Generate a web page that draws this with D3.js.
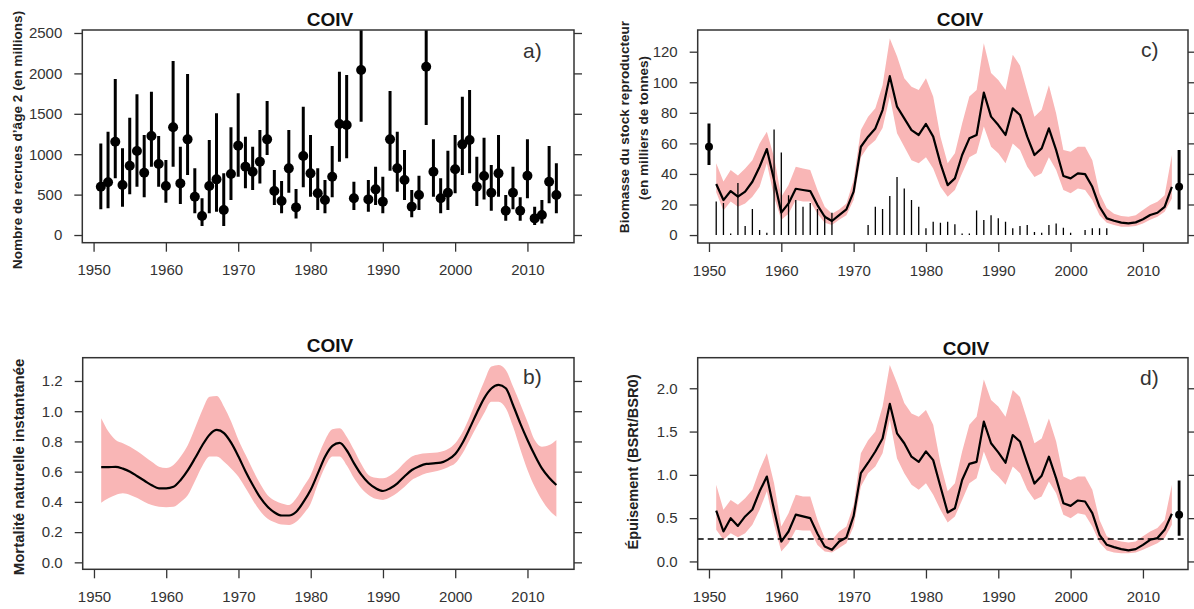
<!DOCTYPE html>
<html>
<head>
<meta charset="utf-8">
<script src="https://cdn.jsdelivr.net/npm/d3@7/dist/d3.min.js"></script>
<style>
  body { margin: 0; background: #fff; }
  svg { display: block; }
  .tick text { font-family: "Liberation Sans", Arial, sans-serif; font-size: 15px; fill: #333; }
  .tick line { stroke: #333; stroke-width: 1.3px; }
  .ylab { font-family: "Liberation Sans", Arial, sans-serif; font-weight: bold; fill: #222; }
  .ttl { font-family: "Liberation Sans", Arial, sans-serif; font-size: 19px; font-weight: bold; fill: #111; }
  .plab { font-family: "Liberation Sans", Arial, sans-serif; font-size: 21px; fill: #333; }
</style>
</head>
<body>
<svg id="chart" width="1194" height="609"></svg>
<script>
// ---- data ----
var years = d3.range(1951, 2015);   // 1951..2014
var yearTicks = [1950, 1960, 1970, 1980, 1990, 2000, 2010];

// a) recrues d'age 2 (millions)
var recMid = [598,652,1155,619,858,1040,771,1225,879,606, 1333,639,1184,474,235,606,689,309,755,1106,
  846,784,908,1184,545,421,825,342,978,763, 516,433,722,1374,1361,454,2042,441,565,413,
  1184,825,681,351,495,2083,784,454,524,813, 1122,1176,598,730,524,763,301,524,301,734,
  206,248,660,495];
var recHi = [1134,1279,1930,1073,1452,1741,1238,1774,1225,928, 2153,1093,1993,825,454,1176,1506,763,1333,1753,
  1217,1093,1300,1658,804,668,1300,569,1588,1238, 825,681,1101,2021,1980,660,2700,681,846,722,
  1782,1279,1052,557,734,2700,1184,701,1044,1238, 1712,1795,969,1205,866,1238,495,846,466,1184,
  351,433,1101,887];
var recLo = [318,330,701,351,503,598,466,846,598,400, 846,384,743,268,111,268,289,111,433,722,
  578,557,639,990,371,268,524,206,590,474, 309,268,466,908,949,309,1403,289,371,268,
  796,536,433,219,309,1361,474,268,309,516, 743,763,359,441,301,474,177,318,177,454,
  124,144,392,268];
var recTicks = [0, 500, 1000, 1500, 2000, 2500];

// b) mortalite naturelle
var mMid = [0.63,0.63,0.632,0.62,0.60,0.57,0.54,0.51,0.49,0.49, 0.50,0.545,0.61,0.69,0.775,0.845,0.876,0.855,0.79,0.70,
  0.60,0.51,0.43,0.37,0.33,0.31,0.31,0.335,0.40,0.48, 0.59,0.70,0.77,0.79,0.74,0.655,0.58,0.525,0.49,0.472,
  0.49,0.523,0.57,0.611,0.635,0.651,0.655,0.66,0.68,0.717, 0.79,0.887,0.99,1.085,1.15,1.174,1.152,1.041,0.92,0.81,
  0.71,0.622,0.56,0.512];
var mHi = [0.953,0.865,0.81,0.788,0.765,0.735,0.70,0.665,0.633,0.625, 0.644,0.70,0.776,0.89,1.008,1.096,1.10,1.03,0.93,0.81,
  0.71,0.611,0.52,0.446,0.41,0.39,0.38,0.424,0.50,0.578, 0.70,0.81,0.88,0.887,0.83,0.743,0.65,0.578,0.56,0.556,
  0.575,0.611,0.66,0.70,0.715,0.721,0.725,0.732,0.75,0.788, 0.86,0.964,1.08,1.196,1.295,1.306,1.273,1.163,1.05,0.931,
  0.81,0.765,0.776,0.81];
var mLo = [0.395,0.424,0.446,0.457,0.446,0.425,0.40,0.38,0.368,0.365, 0.368,0.40,0.446,0.54,0.638,0.70,0.70,0.666,0.62,0.567,
  0.49,0.41,0.34,0.29,0.265,0.25,0.247,0.269,0.32,0.39, 0.52,0.633,0.70,0.70,0.64,0.556,0.49,0.446,0.42,0.413,
  0.43,0.461,0.50,0.545,0.57,0.589,0.60,0.611,0.63,0.655, 0.72,0.81,0.90,0.986,1.063,1.063,1.019,0.898,0.75,0.611,
  0.50,0.413,0.346,0.302];
var mTicks = [0, 0.2, 0.4, 0.6, 0.8, 1.0, 1.2];

// c) biomasse du stock reproducteur (milliers de tonnes)
var ssbMid = [33.4,22.9,28.8,25.1,28.4,34.9,44.7,56.3,36,14.8, 20.7,30.3,29.5,28.8,19.6,12,9.2,13.1,16.8,28.4,
  57.8,64.4,69.8,81.8,104,84,76.4,68.7,65.5,72.7, 64.4,46.9,32.7,37.1,52.4,63.3,65.5,93.2,77.5,72,
  65.5,82.9,78.6,64.4,52.4,56.7,69.8,55.6,38.6,37.1, 40.4,39.9,31.6,18.5,10.9,9.4,8.1,7.6,8.3,10.3,
  13.1,14.6,18.5,31.6];
var ssbHi = [47,35,42.5,39,43.6,49,60,67.6,51,25, 32.7,44.7,43.6,42.5,29.5,18.5,14,16.8,20.7,36,
  68.7,77.5,83,98,128.7,117,102.6,97,95,102.6, 90.6,64.4,47,53.5,73,90.6,95,125.5,106,101.5,
  95,118,111,94,77.5,82,98,79.6,55.6,54.5, 57.8,57.8,49,27.3,17.5,14,12.4,12,13,16.4,
  19.6,21.8,26,52.4];
var ssbLo = [28,16,22,18.5,20.7,25,31.6,47,25,10, 14,23,22,22,14,8,6.5,10,13,23,
  51,58,62,70,90.6,66.6,57.8,49,47,51, 43.6,31.6,25,29.5,40.4,51,53.5,71,57.8,53.5,
  47,60,55.6,44.7,38,40.4,51,42.5,29.5,27.3, 30.5,29.5,23,13,8,6.5,5.5,5.5,6,7.6,
  10,12,15.3,24];
var catchYears = d3.range(1951, 2006);
var catchVals = [22,21,1,34,6,17,3.3,1.5,69,54, 26,23,18.5,21,17,13,14.6,0,0,0,
  0,6.5,18.5,17,25.5,38,30.5,23,18.5,4.4, 8.7,8,8.7,7,1,1,16,9.8,13,11,
  8.7,4.4,6,6.5,2,1.5,6.5,7.6,4.8,1.5, 0,3.3,4.4,4.4,4.4];
var ssbPts = [{yr: 1950, v: 57.8, lo: 45.8, hi: 73}, {yr: 2015, v: 31.6, lo: 16.8, hi: 55.6}];
var ssbTicks = [0, 20, 40, 60, 80, 100, 120];

// d) epuisement BSRt/BSR0
var depMid = [0.588,0.346,0.50,0.41,0.52,0.60,0.81,0.98,0.596,0.23, 0.346,0.54,0.52,0.50,0.32,0.173,0.135,0.23,0.277,0.527,
  1.02,1.14,1.27,1.42,1.82,1.48,1.365,1.21,1.15,1.27, 1.17,0.865,0.565,0.615,0.94,1.127,1.15,1.615,1.365,1.26,
  1.14,1.46,1.385,1.135,0.90,0.99,1.21,0.96,0.673,0.642, 0.704,0.692,0.558,0.308,0.192,0.165,0.142,0.127,0.142,0.192,
  0.25,0.27,0.365,0.55];
var depHi = [0.885,0.596,0.71,0.654,0.73,0.827,1.058,1.25,0.904,0.404, 0.558,0.77,0.75,0.75,0.48,0.27,0.25,0.346,0.404,0.654,
  1.25,1.40,1.50,1.79,2.27,2.06,1.83,1.71,1.67,1.75, 1.58,1.135,0.81,0.904,1.27,1.58,1.67,2.10,1.865,1.79,
  1.67,1.98,1.90,1.635,1.365,1.42,1.65,1.385,0.98,0.94, 0.98,0.98,0.827,0.48,0.29,0.25,0.23,0.22,0.23,0.29,
  0.346,0.385,0.48,0.885];
var depLo = [0.365,0.25,0.327,0.28,0.327,0.423,0.596,0.81,0.423,0.115, 0.21,0.365,0.358,0.358,0.19,0.115,0.104,0.154,0.21,0.404,
  0.865,1.02,1.096,1.25,1.635,1.19,1.02,0.885,0.827,0.904, 0.77,0.596,0.45,0.52,0.71,0.904,0.96,1.27,1.058,0.98,
  0.885,1.096,1.02,0.827,0.71,0.75,0.923,0.788,0.538,0.50, 0.558,0.538,0.404,0.22,0.127,0.104,0.096,0.096,0.104,0.135,
  0.173,0.21,0.27,0.423];
var depPts = [{yr: 2015, v: 0.538, lo: 0.296, hi: 0.935}];
var depRef = 0.26;
var depTicks = [0, 0.5, 1.0, 1.5, 2.0];

var bandColor = '#f9b6b6';
var svg = d3.select('#chart');

// builds one panel: box, axes, clip, returns scales + group
function makePanel(o){
  var x = d3.scaleLinear().domain(o.xdom).range([o.l, o.r]);
  var y = d3.scaleLinear().domain(o.ydom).range([o.b, o.t]);
  var g = svg.append('g');

  g.append('clipPath').attr('id', o.id + '-clip')
    .append('rect').attr('x', o.l).attr('y', o.t).attr('width', o.r - o.l).attr('height', o.b - o.t);
  var plot = g.append('g').attr('clip-path', 'url(#' + o.id + '-clip)');

  var ax = g.append('g').attr('transform', 'translate(0,' + o.b + ')')
    .call(d3.axisBottom(x).tickValues(yearTicks).tickFormat(d3.format('d')).tickSize(9).tickPadding(13));
  ax.select('.domain').remove();

  var ayl = g.append('g').attr('transform', 'translate(' + o.l + ',0)')
    .call(d3.axisLeft(y).tickValues(o.yticks).tickFormat(o.fmt).tickSize(8).tickPadding(12));
  ayl.select('.domain').remove();

  var ayr = g.append('g').attr('transform', 'translate(' + o.r + ',0)')
    .call(d3.axisRight(y).tickValues(o.yticks).tickFormat('').tickSize(8));
  ayr.select('.domain').remove();

  g.append('rect').attr('x', o.l).attr('y', o.t).attr('width', o.r - o.l).attr('height', o.b - o.t)
    .attr('fill', 'none').attr('stroke', '#333').attr('stroke-width', 1.5);

  g.append('text').attr('class', 'ttl').attr('x', o.tx).attr('y', o.ty)
    .attr('text-anchor', 'middle').text('COIV');
  g.append('text').attr('class', 'plab').attr('x', o.px).attr('y', o.py).text(o.plab);

  o.ylab.forEach(function(l){
    g.append('text').attr('class', 'ylab').style('font-size', l.fs + 'px')
      .attr('transform', 'translate(' + l.x + ',' + l.y + ') rotate(-90)')
      .attr('text-anchor', 'middle').attr('dy', '0.35em').text(l.t);
  });
  return {x: x, y: y, plot: plot};
}

function drawBand(p, lo, hi, mid, curve){
  var area = d3.area().x(function(d, i){ return p.x(years[i]); })
    .y0(function(d, i){ return p.y(lo[i]); }).y1(function(d, i){ return p.y(hi[i]); }).curve(curve);
  p.plot.append('path').datum(mid).attr('d', area).attr('fill', bandColor);
  var line = d3.line().x(function(d, i){ return p.x(years[i]); }).y(function(d){ return p.y(d); }).curve(curve);
  p.plot.append('path').datum(mid).attr('d', line).attr('fill', 'none')
    .attr('stroke', '#000').attr('stroke-width', 2.2).attr('stroke-linejoin', 'round');
}

function drawPts(p, pts, r, w){
  pts.forEach(function(d){
    p.plot.append('line').attr('x1', p.x(d.yr)).attr('x2', p.x(d.yr))
      .attr('y1', p.y(d.lo)).attr('y2', p.y(d.hi)).attr('stroke', '#000').attr('stroke-width', w);
    p.plot.append('circle').attr('cx', p.x(d.yr)).attr('cy', p.y(d.v)).attr('r', r).attr('fill', '#000');
  });
}

// ---- a) ----
var pa = makePanel({id: 'pa', l: 82.3, r: 574, t: 30, b: 242.7, xdom: [1948.44, 2016.44], ydom: [-95, 2537],
  yticks: recTicks, fmt: d3.format('d'), tx: 330, ty: 26, px: 523, py: 58, plab: 'a)',
  ylab: [{x: 17, y: 140, fs: 13.6, t: 'Nombre de recrues d\u2019âge 2 (en millions)'}]});
var recPts = years.map(function(yr, i){ return {yr: yr, v: recMid[i], lo: recLo[i], hi: recHi[i]}; });
drawPts(pa, recPts, 5, 3);

// ---- b) ----
var pb = makePanel({id: 'pb', l: 82.7, r: 574, t: 357.7, b: 569.3, xdom: [1948.44, 2016.44], ydom: [-0.046, 1.354],
  yticks: mTicks, fmt: d3.format('.1f'), tx: 330, ty: 352, px: 523, py: 384, plab: 'b)',
  ylab: [{x: 19, y: 467, fs: 15, t: 'Mortalité naturelle instantanée'}]});
drawBand(pb, mLo, mHi, mMid, d3.curveMonotoneX);

// ---- c) ----
var pc = makePanel({id: 'pc', l: 697.7, r: 1188, t: 30, b: 243, xdom: [1948.44, 2016.23], ydom: [-5.2, 134.2],
  yticks: ssbTicks, fmt: d3.format('d'), tx: 960, ty: 26, px: 1141, py: 57, plab: 'c)',
  ylab: [{x: 624, y: 127, fs: 13.6, t: 'Biomasse du stock reproducteur'},
         {x: 643, y: 128, fs: 13.6, t: '(en milliers de tonnes)'}]});
drawBand(pc, ssbLo, ssbHi, ssbMid, d3.curveLinear);
pc.plot.selectAll('line.catch').data(catchVals).enter().append('line').attr('class', 'catch')
  .attr('x1', function(d, i){ return pc.x(catchYears[i]); }).attr('x2', function(d, i){ return pc.x(catchYears[i]); })
  .attr('y1', pc.y(0)).attr('y2', function(d){ return pc.y(d); })
  .attr('stroke', '#000').attr('stroke-width', 1.3);
drawPts(pc, ssbPts, 4, 3);

// ---- d) ----
var pd = makePanel({id: 'pd', l: 697.7, r: 1188, t: 357.7, b: 569.5, xdom: [1948.44, 2016.23], ydom: [-0.093, 2.353],
  yticks: depTicks, fmt: d3.format('.1f'), tx: 966, ty: 355, px: 1140, py: 385, plab: 'd)',
  ylab: [{x: 633, y: 462, fs: 14.6, t: 'Épuisement (BSRt/BSR0)'}]});
drawBand(pd, depLo, depHi, depMid, d3.curveLinear);
pd.plot.append('line').attr('x1', 697.7).attr('x2', 1188).attr('y1', pd.y(depRef)).attr('y2', pd.y(depRef))
  .attr('stroke', '#000').attr('stroke-width', 1.4).attr('stroke-dasharray', '6,4');
drawPts(pd, depPts, 4, 2.8);
</script>
</body>
</html>
